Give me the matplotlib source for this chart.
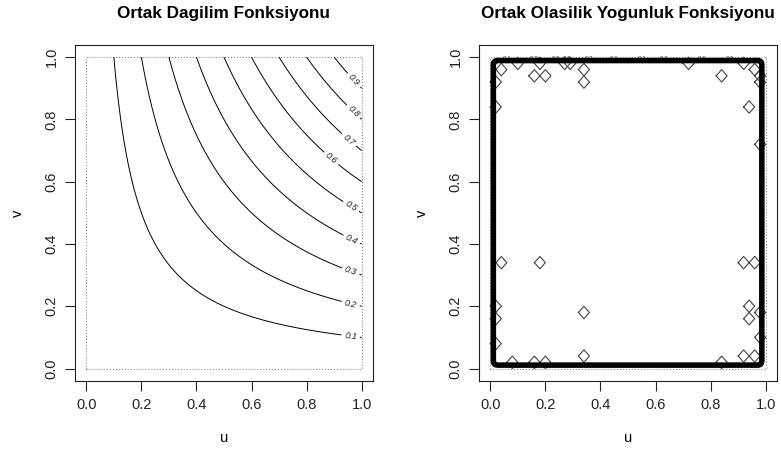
import numpy as np
import matplotlib.pyplot as plt
from matplotlib.patches import FancyBboxPatch

plt.rcParams['font.family'] = ['Liberation Sans', 'DejaVu Sans']

# grid for the copula surfaces
grid = np.linspace(0, 1, 101)
levels = [0.1, 0.2, 0.3, 0.4, 0.5, 0.6, 0.7, 0.8, 0.9]
# where the contour labels sit on the distribution plot
label_pos = [(0.96, 0.104), (0.96, 0.209), (0.961, 0.314), (0.964, 0.415),
             (0.957, 0.514), (0.89, 0.675), (0.955, 0.736), (0.97, 0.825),
             (0.967, 0.922)]

# small closed contours left over on the (flat) density surface
blips = [(0.10, 0.98), (0.18, 0.98), (0.16, 0.94), (0.20, 0.94), (0.27, 0.98),
         (0.29, 0.98), (0.34, 0.96), (0.34, 0.92), (0.04, 0.96), (0.02, 0.92),
         (0.02, 0.84), (0.72, 0.98), (0.84, 0.94), (0.92, 0.98), (0.96, 0.96),
         (0.98, 0.94), (0.98, 0.92), (0.94, 0.84), (0.98, 0.72),
         (0.04, 0.34), (0.18, 0.34), (0.34, 0.18), (0.34, 0.04), (0.92, 0.34),
         (0.96, 0.34), (0.94, 0.20), (0.94, 0.16), (0.98, 0.18), (0.98, 0.10),
         (0.02, 0.20), (0.02, 0.16), (0.02, 0.08), (0.08, 0.02), (0.16, 0.02),
         (0.20, 0.02), (0.84, 0.02), (0.92, 0.04), (0.96, 0.04)]
blip_r = 0.02
# crowded labels along the top edge of the density plot
top_labels = [(0.06, '0.1'), (0.16, '0.2'), (0.24, '0.5'), (0.28, '0.5'),
              (0.36, '0.3'), (0.45, '0.1'), (0.55, '0.1'), (0.63, '0.1'),
              (0.77, '0.6'), (0.87, '0.5')]

U, V = np.meshgrid(grid, grid)
C = U * V

fig = plt.figure(figsize=(7.81, 4.54), dpi=100)
ax1 = fig.add_axes([0.0964, 0.1608, 0.3808, 0.7408])
ax2 = fig.add_axes([0.6137, 0.1608, 0.3808, 0.7408])

ticks = [0.0, 0.2, 0.4, 0.6, 0.8, 1.0]
for ax, title in [(ax1, 'Ortak Dagilim Fonksiyonu'),
                  (ax2, 'Ortak Olasilik Yogunluk Fonksiyonu')]:
    ax.set_xlim(-0.04, 1.04)
    ax.set_ylim(-0.04, 1.04)
    ax.set_xticks(ticks)
    ax.set_yticks(ticks)
    ax.set_xticklabels(['%.1f' % t for t in ticks])
    ax.set_yticklabels(['%.1f' % t for t in ticks], rotation=90, va='center')
    ax.tick_params(direction='out', length=7, width=0.8, labelsize=10.5,
                   colors='#222222', pad=5)
    for s in ax.spines.values():
        s.set_linewidth(0.8)
        s.set_color('#222222')
    ax.set_title(title, fontsize=12.3, fontweight='bold', pad=19)
    ax.set_xlabel('u', fontsize=10.5, labelpad=14)
    ax.set_ylabel('v', fontsize=10.5, labelpad=14)
    ax.plot([0, 1, 1, 0, 0], [0, 0, 1, 1, 0], ls=':', lw=0.8, color='#888888')

cs = ax1.contour(U, V, C, levels=levels, colors='black', linewidths=0.7)
cl = ax1.clabel(cs, levels, manual=label_pos, inline=True, inline_spacing=3,
                fontsize=6.5, fmt='%.1f', colors='#222222')
for t in cl:
    t.set_style('italic')

for (x, y) in blips:
    ax2.plot([x - blip_r, x, x + blip_r, x, x - blip_r],
             [y, y + blip_r, y, y - blip_r, y], color='#444444', lw=0.8)
for (x, s) in top_labels:
    ax2.text(x, 0.995, s, fontsize=4.5, ha='center', va='center', color='#333333')

ax2.add_patch(FancyBboxPatch((0.011, 0.011), 0.975, 0.978,
                             boxstyle='round,pad=0,rounding_size=0.015',
                             fill=False, ec='black', lw=4.0, zorder=5))

fig.savefig('out.png', dpi=100)
